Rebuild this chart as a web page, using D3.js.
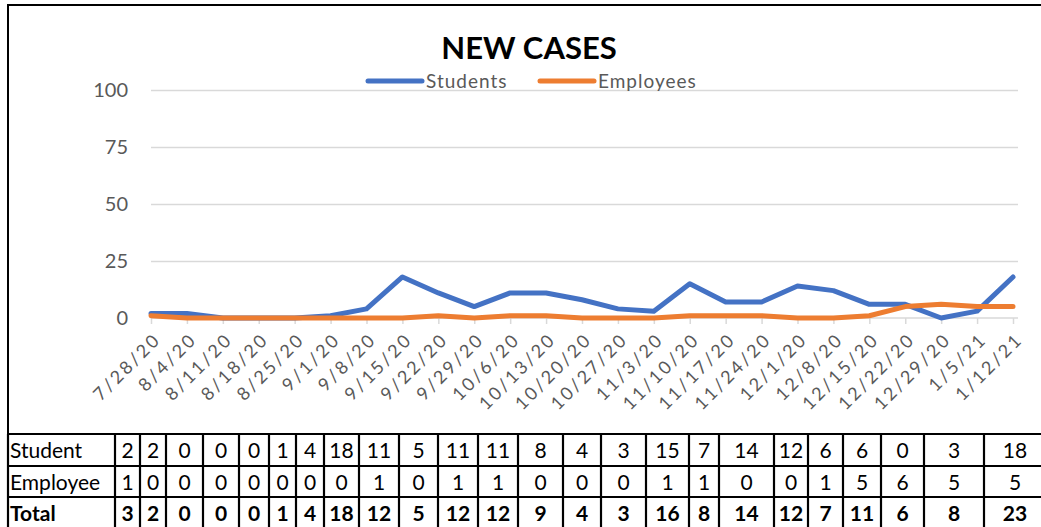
<!doctype html>
<html lang="en">
<head>
    <meta charset="UTF-8">
    <title>New cases</title>
    <script src="https://d3js.org/d3.v7.min.js"></script>
    <style>
        body { margin: 0; background: #fff; }
        svg { display: block; font-family: Lato, "Open Sans", sans-serif; }
        .grid line { stroke: #d9d9d9; stroke-width: 1.5px; }
        .grid .domain { display: none; }
        .yaxis text, .xaxis text { fill: #595959; }
        .xaxis line, .xaxis .domain { stroke: #d9d9d9; stroke-width: 1.5px; }
        .cell { fill: none; stroke: #000; stroke-width: 2.2px; }
    </style>
</head>
<body>
<div class="canvas"></div>
</body>

<script>
  // values
  const dates = ['7/28/20', '8/4/20', '8/11/20', '8/18/20', '8/25/20', '9/1/20', '9/8/20', '9/15/20',
    '9/22/20', '9/29/20', '10/6/20', '10/13/20', '10/20/20', '10/27/20', '11/3/20', '11/10/20',
    '11/17/20', '11/24/20', '12/1/20', '12/8/20', '12/15/20', '12/22/20', '12/29/20', '1/5/21', '1/12/21'];
  const students = [2, 2, 0, 0, 0, 1, 4, 18, 11, 5, 11, 11, 8, 4, 3, 15, 7, 7, 14, 12, 6, 6, 0, 3, 18];
  const employees = [1, 0, 0, 0, 0, 0, 0, 0, 1, 0, 1, 1, 0, 0, 0, 1, 1, 1, 0, 0, 1, 5, 6, 5, 5];
  const yTicks = [0, 25, 50, 75, 100];

  // the table under the chart (it has one column fewer than the chart)
  const rowLabels = ['Student', 'Employee', 'Total'];
  const tableStudent = [2, 2, 0, 0, 0, 1, 4, 18, 11, 5, 11, 11, 8, 4, 3, 15, 7, 14, 12, 6, 6, 0, 3, 18];
  const tableEmployee = [1, 0, 0, 0, 0, 0, 0, 0, 1, 0, 1, 1, 0, 0, 0, 1, 1, 0, 0, 1, 5, 6, 5, 5];
  const tableTotal = [3, 2, 0, 0, 0, 1, 4, 18, 12, 5, 12, 12, 9, 4, 3, 16, 8, 14, 12, 7, 11, 6, 8, 23];

  const series = [
    {name: 'Students', values: students, color: '#4472c4'},
    {name: 'Employees', values: employees, color: '#ed7d31'}
  ];

  const W = 1041, H = 527;
  const svg = d3.select('.canvas')
    .append('svg')
    .attr('width', W)
    .attr('height', H)

  const x = d3.scalePoint().domain(dates).range([151, 1013]);
  const y = d3.scaleLinear().domain([0, 100]).range([318, 90]);

  // frame of the chart
  svg.append('path')
    .attr('d', `M8,434 V5 H${W + 5}`)
    .attr('fill', 'none')
    .attr('stroke', '#000')
    .attr('stroke-width', 2)

  // gridlines
  svg.append('g')
    .attr('class', 'grid')
    .attr('transform', 'translate(151,0)')
    .call(d3.axisLeft(y).tickValues(yTicks.slice(1)).tickSize(-(1018 - 151)).tickFormat(''))

  svg.append('g')
    .attr('class', 'yaxis')
    .attr('transform', 'translate(151,0)')
    .call(d3.axisLeft(y).tickValues(yTicks).tickSize(0).tickPadding(23))
    .call(g => g.select('.domain').remove())
    .selectAll('text')
    .attr('font-size', '20px')
    .attr('font-family', 'Lato, sans-serif')

  const xAxis = svg.append('g')
    .attr('class', 'xaxis')
    .attr('transform', `translate(0,${y(0)})`)
    .call(d3.axisBottom(x).tickSize(6).tickSizeOuter(0))
  xAxis.select('.domain').attr('d', `M151,0 H1018`)
  xAxis.selectAll('text')
    .attr('font-size', '18px')
    .attr('font-family', 'Lato, sans-serif')
    .attr('letter-spacing', '2.6px')
    .attr('text-anchor', 'end')
    .attr('dy', '0.35em')
    .attr('transform', 'translate(6,18) rotate(-45)')
    .attr('y', 0)
    .attr('x', 0)

  const line = d3.line()
    .x((d, i) => x(dates[i]))
    .y(d => y(d))

  svg.selectAll('path.series')
    .data(series)
    .join('path')
    .attr('class', 'series')
    .attr('d', d => line(d.values))
    .attr('fill', 'none')
    .attr('stroke', d => d.color)
    .attr('stroke-width', 5)
    .attr('stroke-linejoin', 'round')
    .attr('stroke-linecap', 'round')

  // title + legend
  svg.append('text')
    .attr('x', 529)
    .attr('y', 59)
    .attr('text-anchor', 'middle')
    .attr('font-size', '31px')
    .attr('font-weight', 'bold')
    .attr('fill', '#000')
    .text('NEW CASES')

  const legendX = [368, 540];
  const legend = svg.selectAll('g.legend')
    .data(series)
    .join('g')
    .attr('class', 'legend')
    .attr('transform', (d, i) => `translate(${legendX[i]},81)`)
  legend.append('line')
    .attr('x1', 0).attr('x2', 54)
    .attr('stroke', d => d.color)
    .attr('stroke-width', 5)
    .attr('stroke-linecap', 'round')
  legend.append('text')
    .attr('x', 58)
    .attr('y', 7)
    .attr('font-size', '19px')
    .attr('letter-spacing', '1px')
    .attr('fill', '#595959')
    .text(d => d.name)

  // data table
  const colWidths = [107, 25, 26, 37, 36, 30, 27, 28, 35, 40, 39, 40, 40, 45, 38, 45, 43, 30, 55, 34, 35, 38, 43, 60, 62];
  const colEdges = [8, ...d3.cumsum(colWidths).map(v => v + 8)];
  const rowTops = [434, 466, 497, 528];
  const rows = [tableStudent, tableEmployee, tableTotal];

  const table = svg.append('g').attr('font-size', '21px').attr('font-family', 'Lato, sans-serif')
  rows.forEach((vals, r) => {
    const cells = [rowLabels[r], ...vals];
    table.selectAll(`text.r${r}`)
      .data(cells)
      .join('text')
      .attr('class', `r${r}`)
      .attr('x', (d, i) => i === 0 ? colEdges[0] + 2 : (colEdges[i] + colEdges[i + 1]) / 2)
      .attr('y', rowTops[r] + 24)
      .attr('text-anchor', (d, i) => i === 0 ? 'start' : 'middle')
      .attr('font-weight', r === 2 ? 'bold' : 'normal')
      .attr('fill', '#000')
      .text(d => d)
  })
  table.selectAll('line.h')
    .data(rowTops)
    .join('line')
    .attr('class', 'cell')
    .attr('x1', colEdges[0]).attr('x2', W)
    .attr('y1', d => d).attr('y2', d => d)
  table.selectAll('line.v')
    .data(colEdges)
    .join('line')
    .attr('class', 'cell')
    .attr('x1', d => d).attr('x2', d => d)
    .attr('y1', rowTops[0]).attr('y2', H)
</script>
</html>
